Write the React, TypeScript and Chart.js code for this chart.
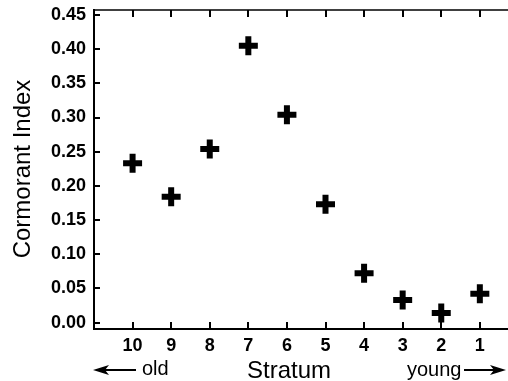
import React, { useEffect, useRef } from "react";
import { Chart, registerables } from "chart.js";

Chart.register(...registerables);

const strata = [10, 9, 8, 7, 6, 5, 4, 3, 2, 1];
const cormorantIndex = [0.233, 0.184, 0.254, 0.405, 0.304, 0.173, 0.072, 0.033, 0.014, 0.042];
const xTicks = [1, 2, 3, 4, 5, 6, 7, 8, 9, 10];
const yTicks = [0, 0.05, 0.1, 0.15, 0.2, 0.25, 0.3, 0.35, 0.4, 0.45];

const FONT = "'Liberation Sans', Arial, Helvetica, sans-serif";

const framePlugin = {
  id: "frame",
  beforeDatasetsDraw(chart: any) {
    const { ctx, chartArea } = chart;
    const { left, right, top, bottom } = chartArea;
    const xs = chart.scales.x;
    const ys = chart.scales.y;
    ctx.save();
    ctx.strokeStyle = "#000";
    ctx.lineCap = "butt";
    // top border
    ctx.lineWidth = 1.5;
    ctx.beginPath();
    ctx.moveTo(left, top);
    ctx.lineTo(right, top);
    ctx.stroke();
    // left and bottom axes
    ctx.lineWidth = 2;
    ctx.beginPath();
    ctx.moveTo(left, top - 1);
    ctx.lineTo(left, bottom + 1);
    ctx.lineTo(right, bottom + 1);
    ctx.stroke();
    // ticks
    ctx.lineWidth = 2;
    ctx.beginPath();
    for (const v of xTicks) {
      const px = Math.round(xs.getPixelForValue(v));
      ctx.moveTo(px, bottom);
      ctx.lineTo(px, bottom - 6);
      ctx.moveTo(px, top);
      ctx.lineTo(px, top + 7);
    }
    for (const v of yTicks) {
      const py = Math.round(ys.getPixelForValue(v));
      ctx.moveTo(left, py);
      ctx.lineTo(left + 6, py);
    }
    ctx.stroke();
    ctx.restore();
  },
  afterDraw(chart: any) {
    const { ctx } = chart;
    ctx.save();
    ctx.fillStyle = "#000";
    ctx.strokeStyle = "#000";
    ctx.textBaseline = "alphabetic";
    // Stratum
    ctx.font = `24px ${FONT}`;
    ctx.textAlign = "center";
    ctx.fillText("Stratum", 289, 378);
    // old
    ctx.font = `20px ${FONT}`;
    ctx.textAlign = "left";
    ctx.fillText("old", 142, 375);
    // young
    ctx.fillText("young", 407, 376);
    const arrow = (x1: number, x2: number, y: number) => {
      const dir = Math.sign(x2 - x1);
      ctx.lineWidth = 2;
      ctx.beginPath();
      ctx.moveTo(x1, y);
      ctx.lineTo(x2 - dir * 10, y);
      ctx.stroke();
      ctx.beginPath();
      ctx.moveTo(x2, y);
      ctx.lineTo(x2 - dir * 16, y - 5);
      ctx.lineTo(x2 - dir * 12, y);
      ctx.lineTo(x2 - dir * 16, y + 5);
      ctx.closePath();
      ctx.fill();
    };
    arrow(136, 93, 370);
    arrow(464, 506, 370);
    ctx.restore();
  },
};

export default function App() {
  const ref = useRef<HTMLCanvasElement | null>(null);
  useEffect(() => {
    if (!ref.current) return;
    const chart = new Chart(ref.current, {
      type: "scatter",
      data: {
        datasets: [
          {
            data: strata.map((s, i) => ({ x: s, y: cormorantIndex[i] })),
            pointStyle: "cross",
            pointRadius: 9.5,
            pointBorderWidth: 6,
            borderColor: "#000",
            backgroundColor: "#000",
            clip: false,
          } as any,
        ],
      },
      options: {
        responsive: false,
        animation: false,
        devicePixelRatio: 1,
        layout: { autoPadding: false, padding: { top: 10, right: 0, left: 0, bottom: 0 } },
        plugins: { legend: { display: false }, tooltip: { enabled: false } },
        scales: {
          x: {
            type: "linear",
            reverse: true,
            min: 0.27,
            max: 11,
            grid: { display: false, drawTicks: false },
            border: { display: false },
            afterBuildTicks: (s: any) => {
              s.ticks = xTicks.map((v) => ({ value: v }));
            },
            afterFit: (s: any) => {
              s.height = 53;
              s.paddingLeft = 0;
              s.paddingRight = 0;
            },
            ticks: {
              color: "#000",
              padding: 7,
              autoSkip: false,
              maxRotation: 0,
              font: { family: FONT, size: 18, weight: "bold" },
              callback: (v: any) => String(v),
            },
          },
          y: {
            type: "linear",
            min: -0.008,
            max: 0.4573,
            grid: { display: false, drawTicks: false },
            border: { display: false },
            afterBuildTicks: (s: any) => {
              s.ticks = yTicks.map((v) => ({ value: v }));
            },
            afterFit: (s: any) => {
              s.width = 94;
              s.paddingTop = 0;
              s.paddingBottom = 0;
            },
            ticks: {
              color: "#000",
              padding: 8,
              font: { family: FONT, size: 18, weight: "bold", lineHeight: 1 },
              callback: (v: any) => Number(v).toFixed(2),
            },
            title: {
              display: true,
              text: "Cormorant Index",
              color: "#000",
              padding: { top: 9, bottom: 0 },
              font: { family: FONT, size: 24, weight: "normal" },
            },
          },
        },
      } as any,
      plugins: [framePlugin],
    });
    return () => chart.destroy();
  }, []);
  return (
    <div style={{ position: "fixed", left: 0, top: 0, width: 508, height: 381, background: "#fff" }}>
      <canvas ref={ref} width={508} height={381} style={{ display: "block", width: 508, height: 381 }} />
    </div>
  );
}
